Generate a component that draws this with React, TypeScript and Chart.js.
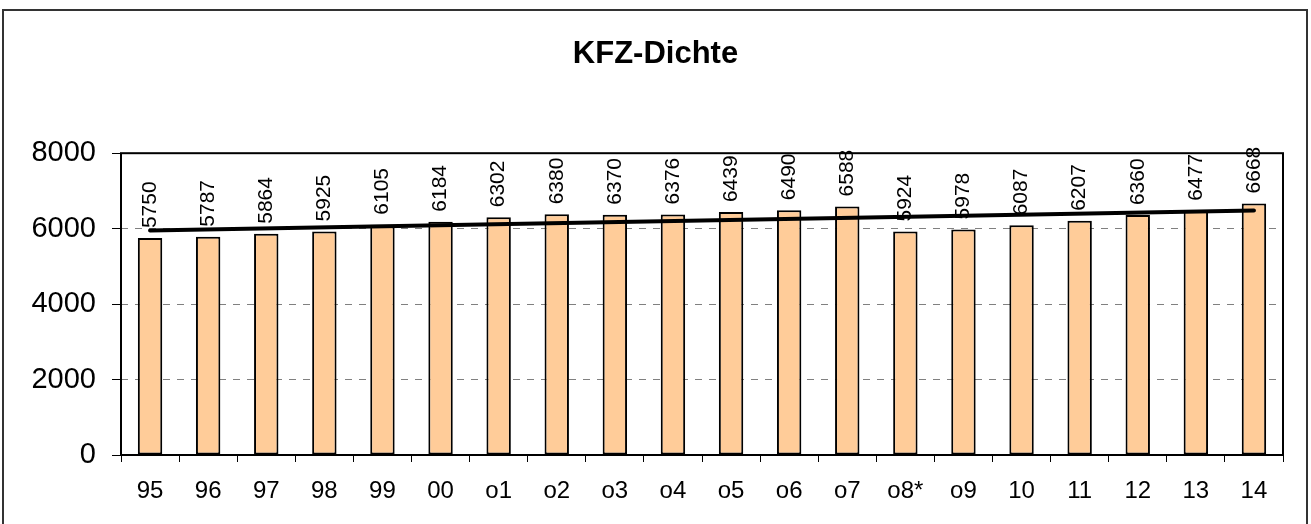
import React, { useEffect, useRef } from "react";
import { Chart, registerables } from "chart.js";

Chart.register(...registerables);

const categories = ["95", "96", "97", "98", "99", "00", "o1", "o2", "o3", "o4", "o5", "o6", "o7", "o8*", "o9", "10", "11", "12", "13", "14"];
const values = [5750, 5787, 5864, 5925, 6105, 6184, 6302, 6380, 6370, 6376, 6439, 6490, 6588, 5924, 5978, 6087, 6207, 6360, 6477, 6668];
const trendEnds = [5950, 6478];
const yMin = 0;
const yMax = 8000;
const yStep = 2000;
const title = "KFZ-Dichte";

const FONT = '"Liberation Sans", Arial, Helvetica, sans-serif';

const frame = {
  id: "frame",
  beforeDraw(chart: any) {
    const ctx = chart.ctx;
    ctx.save();
    ctx.fillStyle = "#ffffff";
    ctx.fillRect(0, 0, chart.width, chart.height);
    ctx.strokeStyle = "#333333";
    ctx.lineWidth = 2;
    ctx.strokeRect(3, 10, 1304, 540);
    ctx.restore();
  },
  beforeDatasetsDraw(chart: any) {
    const { ctx, chartArea } = chart;
    ctx.save();
    ctx.strokeStyle = "#000000";
    ctx.lineWidth = 2;
    ctx.strokeRect(chartArea.left, chartArea.top, chartArea.right - chartArea.left, chartArea.bottom - chartArea.top);
    ctx.restore();
  },
  afterDatasetsDraw(chart: any) {
    const ctx = chart.ctx;
    const meta = chart.getDatasetMeta(0);
    ctx.save();
    ctx.font = `21px ${FONT}`;
    ctx.fillStyle = "#000000";
    ctx.textAlign = "left";
    ctx.textBaseline = "middle";
    meta.data.forEach((el: any, i: number) => {
      ctx.save();
      ctx.translate(el.x, el.y - 10);
      ctx.rotate(-Math.PI / 2);
      ctx.fillText(String(values[i]), 0, 0);
      ctx.restore();
    });
    ctx.restore();
  },
};

export default function App() {
  const ref = useRef<HTMLCanvasElement | null>(null);

  useEffect(() => {
    if (!ref.current) return;
    Chart.defaults.font.family = FONT;
    const trendData: (number | null)[] = categories.map(() => null);
    trendData[0] = trendEnds[0];
    trendData[categories.length - 1] = trendEnds[1];

    const chart = new Chart(ref.current, {
      type: "bar",
      data: {
        labels: categories,
        datasets: [
          {
            type: "bar",
            data: values,
            backgroundColor: "#FFCC99",
            borderColor: "#000000",
            borderWidth: 2,
            borderSkipped: false,
            barPercentage: 0.42,
            categoryPercentage: 1,
            order: 1,
          } as any,
          {
            type: "line",
            data: trendData,
            spanGaps: true,
            borderColor: "#000000",
            borderWidth: 4,
            borderCapStyle: "round",
            pointRadius: 0,
            fill: false,
            order: 0,
          } as any,
        ],
      },
      options: {
        animation: false,
        responsive: false,
        devicePixelRatio: 1,
        layout: { padding: 0 },
        plugins: {
          legend: { display: false },
          tooltip: { enabled: false },
          title: {
            display: true,
            text: title,
            color: "#000000",
            font: { size: 31, weight: "bold", family: FONT },
            padding: { top: 36, bottom: 80 },
          },
        },
        scales: {
          x: {
            type: "category",
            afterFit: (s: any) => {
              s.height = 69;
            },
            grid: {
              display: true,
              offset: true,
              drawOnChartArea: false,
              drawTicks: true,
              tickLength: 7,
              tickColor: "#000000",
              tickWidth: 1,
            },
            border: { display: false },
            ticks: { color: "#000000", font: { size: 24, family: FONT }, padding: 15, maxRotation: 0, autoSkip: false },
          },
          y: {
            min: yMin,
            max: yMax,
            afterFit: (s: any) => {
              s.width = 121;
            },
            grid: {
              color: "#808080",
              lineWidth: 1,
              drawTicks: true,
              tickLength: 9,
              tickColor: "#000000",
              tickWidth: 1,
              tickBorderDash: [],
            } as any,
            border: { display: false, dash: [7, 7] },
            ticks: {
              stepSize: yStep,
              color: "#000000",
              font: { size: 29, family: FONT },
              padding: 16,
              callback: (v: any) => String(v),
            },
          },
          yRight: {
            position: "right",
            min: yMin,
            max: yMax,
            afterFit: (s: any) => {
              s.width = 28;
            },
            grid: { display: false },
            border: { display: false },
            ticks: { display: false },
          },
        },
      },
      plugins: [frame],
    } as any);
    return () => chart.destroy();
  }, []);

  return (
    <div style={{ position: "absolute", left: 0, top: 0, width: 1311, height: 524 }}>
      <canvas ref={ref} width={1311} height={524} style={{ display: "block", width: 1311, height: 524 }} />
    </div>
  );
}
